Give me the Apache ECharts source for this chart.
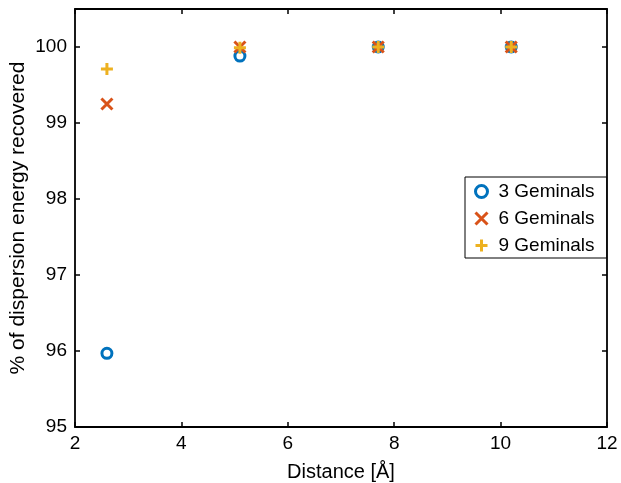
<!DOCTYPE html>
<html><head><meta charset="utf-8">
<script src="https://cdn.jsdelivr.net/npm/echarts@6/dist/echarts.min.js"></script>
<style>html,body{margin:0;padding:0;background:#fff}#c{width:621px;height:483px}</style>
</head><body><div id="c"></div>
<script>
var distances = [2.6, 5.1, 7.7, 10.2];
var gem3 = [95.97, 99.88, 100.0, 100.0];
var gem6 = [99.25, 100.0, 100.0, 100.0];
var gem9 = [99.71, 99.99, 100.0, 100.0];
var seriesNames = ['3 Geminals', '6 Geminals', '9 Geminals'];
var xTitle = 'Distance [Å]';
var yTitle = '% of dispersion energy recovered';

function pairs(xs, ys){ return xs.map(function(x,i){ return [x, ys[i]]; }); }
var font = 'Liberation Sans, Arial, Helvetica, sans-serif';
var chart = echarts.init(document.getElementById('c'), null, {renderer:'canvas'});
var axisLine = {show:true, lineStyle:{color:'#000', width:1.8}};
var tick = {show:true, inside:true, length:5, lineStyle:{color:'#000', width:1.5}};
var crossPath = 'path://M0,0L10,10M10,0L0,10';
var plusPath = 'path://M5,0L5,10M0,5L10,5';
chart.setOption({
  animation:false,
  grid:{left:75, right:14, top:9, bottom:56, containLabel:false, outerBoundsMode:'none'},
  legend:{
    orient:'vertical', left:465, top:177,
    itemGap:8, itemWidth:12, itemHeight:12,
    padding:[5,12,3,8],
    borderColor:'#000', borderWidth:1, backgroundColor:'#fff',
    itemStyle:{borderWidth:3},
    textStyle:{fontFamily:font, fontSize:19, color:'#000', padding:[0,0,0,6]},
    data:seriesNames
  },
  xAxis:[{
    type:'value', min:2, max:12, interval:2,
    axisLine:axisLine, axisTick:tick, splitLine:{show:false},
    axisLabel:{fontFamily:font, fontSize:19, color:'#000', margin:7},
    name:xTitle, nameLocation:'middle', nameGap:35, nameMoveOverlap:false,
    nameTextStyle:{fontFamily:font, fontSize:20, color:'#000'}
  },{
    type:'value', position:'top', min:2, max:12, interval:2,
    axisLine:axisLine, axisTick:tick, axisLabel:{show:false}, splitLine:{show:false}
  }],
  yAxis:[{
    type:'value', min:95, max:100.5, interval:1,
    axisLine:axisLine, axisTick:tick, splitLine:{show:false},
    axisLabel:{fontFamily:font, fontSize:19, color:'#000', margin:8,
      formatter:function(v){ return (Math.abs(v-Math.round(v))<1e-6) ? String(Math.round(v)) : ''; }},
    name:yTitle, nameLocation:'middle', nameGap:46, nameMoveOverlap:false,
    nameTextStyle:{fontFamily:font, fontSize:21, color:'#000'}
  },{
    type:'value', position:'right', min:95, max:100.5, interval:1,
    axisLine:axisLine, axisTick:tick, axisLabel:{show:false}, splitLine:{show:false}
  }],
  series:[{
    name:seriesNames[0], type:'scatter', data:pairs(distances, gem3),
    symbol:'circle', symbolSize:10,
    itemStyle:{color:'rgba(255,255,255,0)', borderColor:'#0072BD', borderWidth:3, opacity:1}
  },{
    name:seriesNames[1], type:'scatter', data:pairs(distances, gem6),
    symbol:crossPath, symbolSize:11,
    itemStyle:{color:'none', borderColor:'#D95319', borderWidth:3, opacity:1}
  },{
    name:seriesNames[2], type:'scatter', data:pairs(distances, gem9),
    symbol:plusPath, symbolSize:12,
    itemStyle:{color:'none', borderColor:'#EDB120', borderWidth:3, opacity:1}
  }]
});
</script></body></html>
